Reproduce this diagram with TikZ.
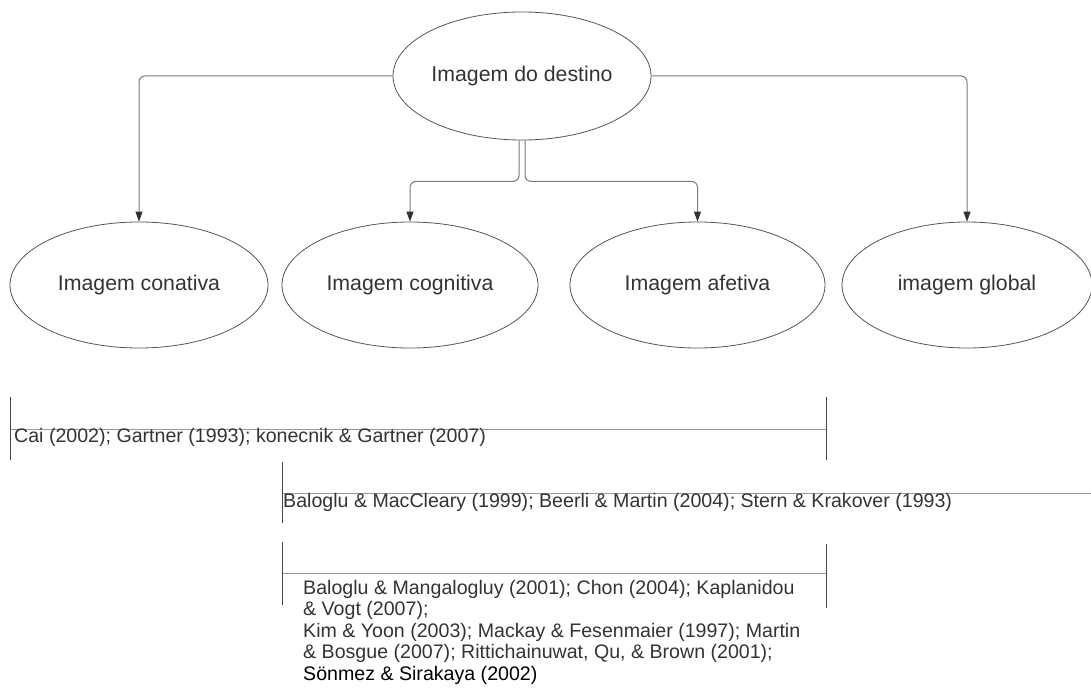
\documentclass[tikz,border=0pt]{standalone}
\usepackage{fontspec}
\setmainfont{Liberation Sans}
\usetikzlibrary{shapes.geometric,arrows.meta}
\definecolor{txt}{HTML}{333333}
\definecolor{outl}{HTML}{555555}
\definecolor{conc}{HTML}{7A7A7A}
\definecolor{hline}{HTML}{999999}
\definecolor{vline}{HTML}{444444}
\tikzset{
  ell/.style={ellipse, draw=outl, line width=0.8pt, inner sep=0pt, text=txt,
    font=\fontsize{21.3}{24}\selectfont},
  conn/.style={draw=conc, line width=1pt, rounded corners=6pt,
    -{Triangle[width=7pt,length=10pt,fill=txt,color=txt]}},
  cite/.style={anchor=base west, inner sep=0pt, text=txt,
    font=\fontsize{19.6}{22}\selectfont},
  brh/.style={draw=hline, line width=1pt},
  brv/.style={draw=vline, line width=0.8pt},
}
\begin{document}
\begin{tikzpicture}[x=1pt,y=-1pt]
\useasboundingbox (0,0) rectangle (1091,690);
\node[ell, minimum width=258pt, minimum height=128pt] (top) at (522,76) {Imagem do destino};
\node[ell, minimum width=258pt, minimum height=126pt] (con) at (139,285) {Imagem conativa};
\node[ell, minimum width=256pt, minimum height=126pt] (cog) at (410,285) {Imagem cognitiva};
\node[ell, minimum width=255pt, minimum height=126pt] (afe) at (697.5,285) {Imagem afetiva};
\node[ell, minimum width=250pt, minimum height=126pt] (glob) at (967,285) {imagem global};

\draw[conn] (top.west) -| (con.north);
\draw[conn] (top.east) -| (glob.north);
\draw[conn] ([xshift=-3pt]top.south) -- ++(0,41) -| (cog.north);
\draw[conn] ([xshift=3pt]top.south) -- ++(0,41) -| (afe.north);

% bracket 1
\draw[brh] (10,429) -- (826,429);
\draw[brv] (10,397) -- (10,460);
\draw[brv] (826,397) -- (826,460);
\node[cite] (c1) at (14,442) {Cai (2002); Gartner (1993); konecnik \& Gartner (2007)};

% bracket 2
\draw[brh] (282,493) -- (1091,493);
\draw[brv] (282,462) -- (282,523);
\node[cite] (c2) at (283,507) {Baloglu \& MacCleary (1999); Beerli \& Martin (2004); Stern \& Krakover (1993)};

% bracket 3
\draw[brh] (282,573) -- (826,573);
\draw[brv] (282,542) -- (282,605);
\draw[brv] (826,544) -- (826,608);
\node[cite] (c3a) at (303,594) {Baloglu \& Mangalogluy (2001); Chon (2004); Kaplanidou};
\node[cite] (c3b) at (303,615.5) {\& Vogt (2007);};
\node[cite] (c3c) at (303,637) {Kim \& Yoon (2003); Mackay \& Fesenmaier (1997); Martin};
\node[cite] (c3d) at (303,658.5) {\& Bosgue (2007); Rittichainuwat, Qu, \& Brown (2001);};
\node[cite, text=black] (c3e) at (303,680) {Sönmez \& Sirakaya (2002)};
\end{tikzpicture}
\end{document}
